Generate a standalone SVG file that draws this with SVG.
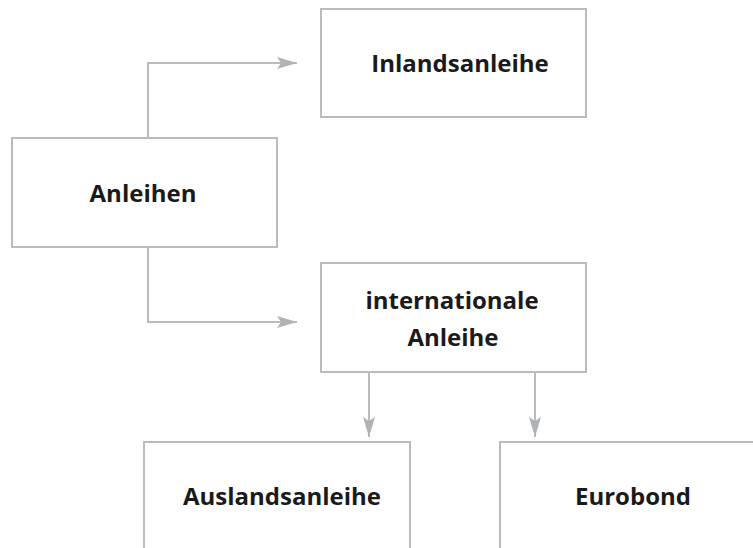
<svg xmlns="http://www.w3.org/2000/svg" width="753" height="548" viewBox="0 0 753 548">
<defs>
<style>
.box{fill:#ffffff;stroke:#b9bcbf;stroke-width:2}
.lbl{font-family:"Open Sans","Liberation Sans",sans-serif;font-weight:700;font-size:24px;fill:#1a1a1a;text-anchor:middle}
.con{fill:none;stroke:#b9bcbf;stroke-width:2}
</style>
<marker id="ah" viewBox="0 0 20 12" refX="20" refY="6" markerWidth="20" markerHeight="12" markerUnits="userSpaceOnUse" orient="auto">
<path d="M0,0 L20,6 L0,12 L4,6 Z" fill="#b0b3b6"/>
</marker>
</defs>
<rect width="753" height="548" fill="#ffffff"/>
<g id="connectors">
<path class="con" d="M148,138 V63 H297" marker-end="url(#ah)"/>
<path class="con" d="M148,247 V322 H297" marker-end="url(#ah)"/>
<path class="con" d="M369,372 V437" marker-end="url(#ah)"/>
<path class="con" d="M535,372 V437" marker-end="url(#ah)"/>
</g>
<g id="n-inland">
<rect class="box" x="321" y="9" width="265" height="108"/>
<text class="lbl" x="460" y="72">Inlandsanleihe</text>
</g>
<g id="n-anleihen">
<rect class="box" x="12" y="138" width="265" height="109"/>
<text class="lbl" x="143" y="202">Anleihen</text>
</g>
<g id="n-international">
<rect class="box" x="321" y="263" width="265" height="109"/>
<text class="lbl" x="452" y="309">internationale</text>
<text class="lbl" x="453" y="346">Anleihe</text>
</g>
<g id="n-ausland">
<rect class="box" x="144" y="442" width="266" height="120"/>
<text class="lbl" x="282" y="505">Auslandsanleihe</text>
</g>
<g id="n-eurobond">
<rect class="box" x="500" y="442" width="266" height="120"/>
<text class="lbl" x="633" y="505">Eurobond</text>
</g>
</svg>
